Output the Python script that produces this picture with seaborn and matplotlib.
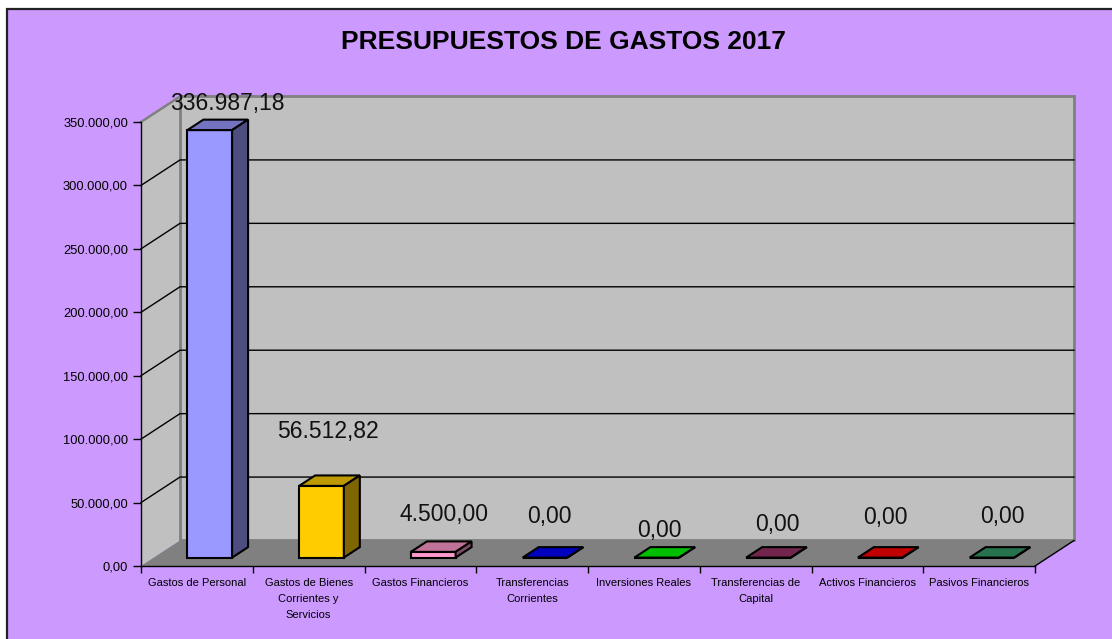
import numpy as np
import pandas as pd
import matplotlib
matplotlib.use("Agg")
import matplotlib.pyplot as plt
import seaborn as sns
from matplotlib.patches import Polygon, Rectangle
from matplotlib.lines import Line2D
from matplotlib.colors import to_rgb

# ---------------- data ----------------
title = "PRESUPUESTOS DE GASTOS 2017"
categories = [
    "Gastos de Personal",
    "Gastos de Bienes\nCorrientes y\nServicios",
    "Gastos Financieros",
    "Transferencias\nCorrientes",
    "Inversiones Reales",
    "Transferencias de\nCapital",
    "Activos Financieros",
    "Pasivos Financieros",
]
values = [336987.18, 56512.82, 4500.00, 0.0, 0.0, 0.0, 0.0, 0.0]
value_labels = ["336.987,18", "56.512,82", "4.500,00", "0,00", "0,00", "0,00", "0,00", "0,00"]
bar_colors = ["#9999FF", "#FFCC00", "#FF99CC", "#0000FF", "#00FF00", "#993366", "#FF0000", "#339966"]
y_ticks = [0, 50000, 100000, 150000, 200000, 250000, 300000, 350000]
y_tick_labels = ["0,00", "50.000,00", "100.000,00", "150.000,00", "200.000,00",
                 "250.000,00", "300.000,00", "350.000,00"]

# ---------------- layout / style ----------------
W, H = 1112, 639
BG = "#CC99FF"
WALL = "#C0C0C0"
FLOOR = "#808080"
DEPTH_PX = (39.0, 25.5)          # 3-D depth of the box in pixels
BAR_FRONT, BAR_BACK = 0.33, 0.74  # bar depth fractions
label_offsets = [(30, 29), (19, 56), (23.6, 39), (17, 43.5), (15, 28.5),
                 (22, 35.5), (17.6, 42), (23.4, 43.5)]

plt.rcParams["font.family"] = ["Liberation Sans", "DejaVu Sans"]

fig = plt.figure(figsize=(W / 100, H / 100), dpi=100)
fig.patch.set_facecolor("white")
fig.add_artist(Rectangle((7 / W, -0.1), 1.2, (H - 9) / H + 0.1, transform=fig.transFigure,
                         facecolor=BG, edgecolor="#222222", lw=1.6, zorder=-10))

ax = fig.add_axes([141 / W, (H - 566) / H, 894 / W, 444 / H])
ax.patch.set_visible(False)

df = pd.DataFrame({"cat": categories, "val": values})
sns.barplot(data=df, x="cat", y="val", hue="cat", palette=bar_colors, width=0.4,
            saturation=1, legend=False, ax=ax, edgecolor="black", linewidth=1.5,
            errorbar=None, zorder=5)

ymax = y_ticks[-1]
ax.set_xlim(-0.5, len(categories) - 0.5)
ax.set_ylim(0, ymax)

# pixel -> data scale
p0 = ax.transData.transform((0, 0))
p1 = ax.transData.transform((1, 1))
sx, sy = p1[0] - p0[0], p1[1] - p0[1]
ddx, ddy = DEPTH_PX[0] / sx, DEPTH_PX[1] / sy
x0, x1 = -0.5, len(categories) - 0.5

# walls and floor
ax.add_patch(Polygon([(x0, 0), (x0 + ddx, ddy), (x0 + ddx, ymax + ddy), (x0, ymax)],
                     closed=True, facecolor=WALL, edgecolor="none", zorder=0, clip_on=False))
ax.add_patch(Polygon([(x0 + ddx, ddy), (x1 + ddx, ddy), (x1 + ddx, ymax + ddy), (x0 + ddx, ymax + ddy)],
                     closed=True, facecolor=WALL, edgecolor=FLOOR, lw=2, zorder=0, clip_on=False))
ax.add_patch(Polygon([(x0, 0), (x1, 0), (x1 + ddx, ddy), (x0 + ddx, ddy)],
                     closed=True, facecolor=FLOOR, edgecolor="none", zorder=1, clip_on=False))
ax.add_line(Line2D([x1, x1 + ddx], [0, ddy], color="black", lw=1, zorder=2, clip_on=False))

# gridlines
for v in y_ticks[1:]:
    if v == ymax:
        ax.add_line(Line2D([x0, x0 + ddx], [v, v + ddy], color=FLOOR, lw=1.8, zorder=1, clip_on=False))
    else:
        ax.add_line(Line2D([x0, x0 + ddx, x1 + ddx], [v, v + ddy, v + ddy],
                           color="black", lw=1, zorder=1, clip_on=False))

# 3-D bars: shift front faces and add top/side faces
bars = [p for p in ax.patches if isinstance(p, Rectangle)]
fdx, fdy = BAR_FRONT * ddx, BAR_FRONT * ddy
bdx, bdy = (BAR_BACK - BAR_FRONT) * ddx, (BAR_BACK - BAR_FRONT) * ddy
for bar, col in zip(bars, bar_colors):
    bx, bw, bh = bar.get_x(), bar.get_width(), bar.get_height()
    bx += fdx
    by = fdy
    bar.set_x(bx)
    bar.set_y(by)
    bar.set_clip_on(False)
    rgb = np.array(to_rgb(col))
    top = rgb * 0.75
    side = rgb * 0.5
    ax.add_patch(Polygon([(bx, by + bh), (bx + bw, by + bh), (bx + bw + bdx, by + bh + bdy),
                          (bx + bdx, by + bh + bdy)], closed=True, facecolor=top,
                         edgecolor="black", lw=1.5, zorder=5, clip_on=False, joinstyle="miter"))
    ax.add_patch(Polygon([(bx + bw, by), (bx + bw + bdx, by + bdy), (bx + bw + bdx, by + bh + bdy),
                          (bx + bw, by + bh)], closed=True, facecolor=side,
                         edgecolor="black", lw=1.5, zorder=5, clip_on=False, joinstyle="miter"))

# value labels
for i, (v, t) in enumerate(zip(values, value_labels)):
    ox, oy = label_offsets[i]
    ax.annotate(t, xy=(i, v), xytext=(ox, oy), textcoords="offset pixels",
                ha="center", va="baseline", fontsize=16.5, color="#111111", zorder=10,
                annotation_clip=False)

# axes styling
for s in ["top", "right"]:
    ax.spines[s].set_visible(False)
for s in ["left", "bottom"]:
    ax.spines[s].set_color("black")
    ax.spines[s].set_linewidth(1)
    ax.spines[s].set_zorder(3)

ax.set_yticks(y_ticks, labels=y_tick_labels)
ax.tick_params(axis="y", length=5.8, width=1, direction="out", pad=3.6, labelsize=9.3,
               colors="black")
ax.set_xticks(range(len(categories)), labels=categories)
ax.set_xticks(np.arange(-0.5, len(categories)), minor=True)
ax.tick_params(axis="x", which="major", length=0, pad=9, labelsize=8, colors="black")
ax.tick_params(axis="x", which="minor", length=5, width=1, direction="out", colors="black")
for t in ax.get_xticklabels():
    t.set_linespacing(1.75)
ax.set_xlabel("")
ax.set_ylabel("")

fig.text(563 / W, 1 - 42 / H, title, ha="center", va="center", fontsize=19,
         fontweight="bold", color="black")

fig.savefig("out.png", dpi=100)
